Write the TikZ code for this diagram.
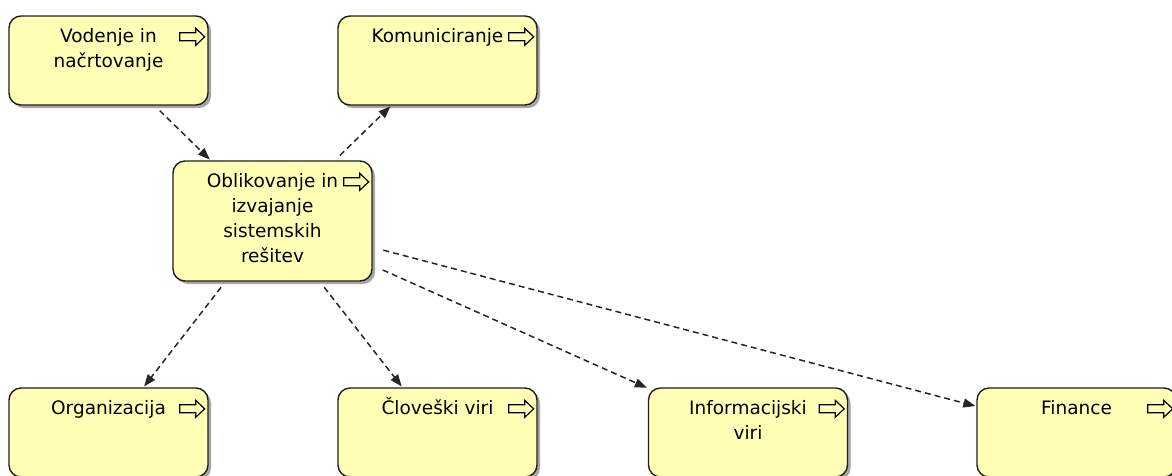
\documentclass[tikz,border=0pt]{standalone}
\usepackage{fontspec}
\setmainfont{DejaVu Sans}
\usepackage{xcolor}
\usetikzlibrary{arrows.meta,shadows}
\definecolor{procfill}{RGB}{255,255,181}
\definecolor{procline}{RGB}{30,30,30}
\newcommand{\procicon}[1]{%
  \draw[icon] ([shift={(-29,17.5)}]#1.north east) -- ++(16,0) -- ++(0,-4.5)
    -- ++(9,8.5) -- ++(-9,8.5) -- ++(0,-4.5) -- ++(-16,0) -- cycle;}

\begin{document}
\begin{tikzpicture}[x=1pt,y=-1pt,
    proc/.style={draw=procline,line width=1.4pt,fill=procfill,rounded corners=12pt,
      minimum width=199pt,minimum height=89pt,
      drop shadow={shadow xshift=3pt,shadow yshift=-3pt,fill=black,opacity=0.35}},
    ptext/.style={align=center,anchor=north,inner sep=0pt,
      font=\fontsize{18.5pt}{25pt}\selectfont},
    flow/.style={-{Triangle[length=12pt,width=9pt]},draw=black!85,line width=1.5pt,
      dash pattern=on 6pt off 4pt,shorten <=7pt,shorten >=1pt},
    icon/.style={draw=black,line width=1.2pt,line join=miter}]
  \useasboundingbox[fill=white] (0,0) rectangle (1172,475);
  \clip (0,0) rectangle (1172,475);
  \node[proc] (vod) at (108.5,60.5) {};
  \node[proc] (kom) at (437.5,60.5) {};
  \node[proc,minimum height=120pt] (obl) at (272.5,221) {};
  \node[proc] (org) at (108.5,432.5) {};
  \node[proc] (clo) at (437.5,432.5) {};
  \node[proc] (inf) at (748,432.5) {};
  \node[proc] (fin) at (1076.5,432.5) {};
  \foreach \b in {vod,kom,obl,org,clo,inf,fin}
    \procicon{\b};
  \node[ptext] (vodtxt) at ([yshift=-13pt]vod.north) {Vodenje in\\načrtovanje};
  \node[ptext] (komtxt) at ([yshift=-13pt]kom.north) {Komuniciranje};
  \node[ptext] (obltxt) at ([yshift=-13pt]obl.north) {Oblikovanje in\\izvajanje\\sistemskih\\rešitev};
  \node[ptext] (orgtxt) at ([yshift=-13pt]org.north) {Organizacija};
  \node[ptext] (clotxt) at ([yshift=-10pt]clo.north) {Človeški viri};
  \node[ptext] (inftxt) at ([yshift=-13pt]inf.north) {Informacijski\\viri};
  \node[ptext] (fintxt) at ([yshift=-13pt]fin.north) {Finance};
  \draw[flow] (vod) -- (obl);
  \draw[flow] (obl) -- (kom);
  \draw[flow] (obl) -- (org);
  \draw[flow] (obl) -- (clo);
  \draw[flow,shorten <=11pt] (obl) -- (inf);
  \draw[flow,shorten <=11pt] (obl) -- (fin);
\end{tikzpicture}
\end{document}
